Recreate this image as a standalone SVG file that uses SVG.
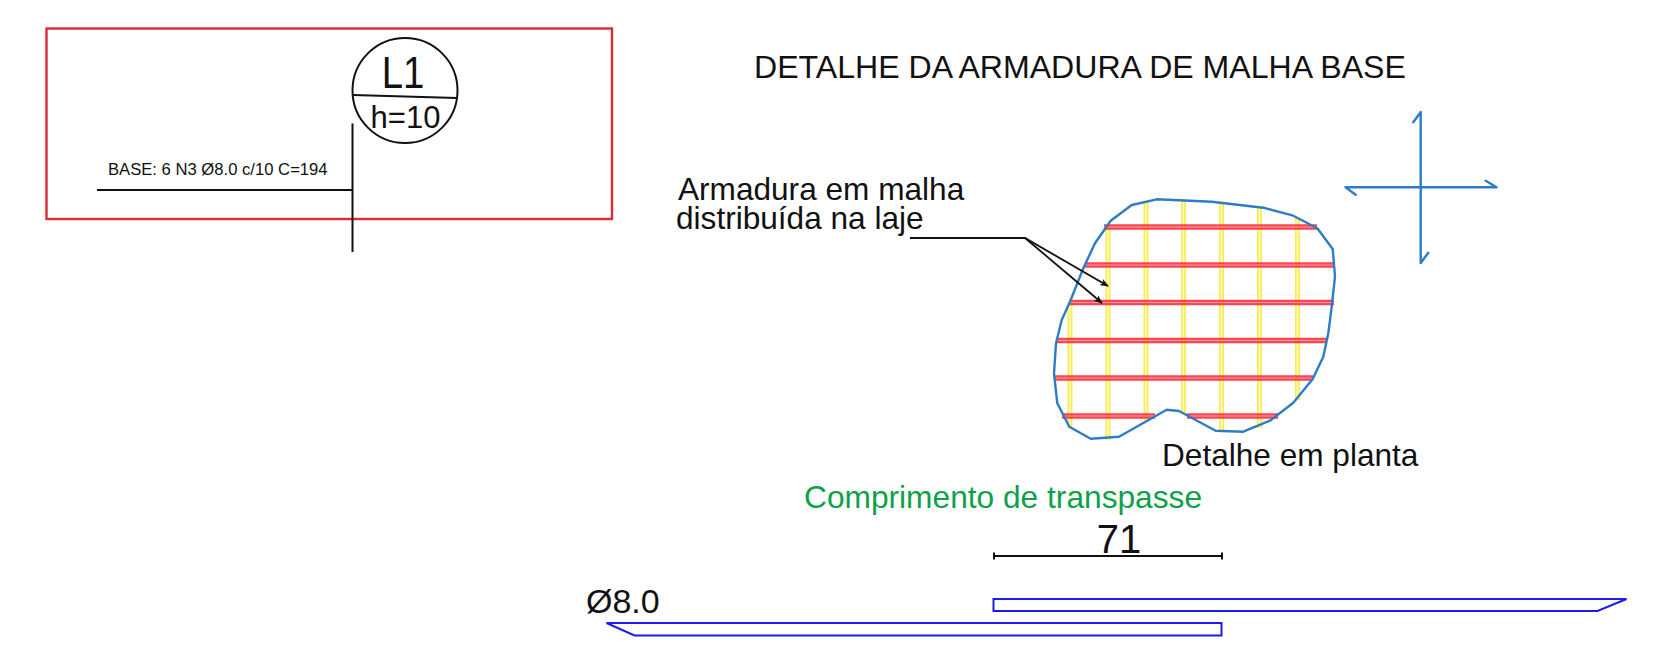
<svg xmlns="http://www.w3.org/2000/svg" width="1654" height="651" viewBox="0 0 1654 651">
<style>
text{font-family:"Liberation Sans",Arial,sans-serif;fill:#111}
.k{fill:none;stroke:#111;stroke-width:2}
.b{fill:none;stroke:#2e7dc4;stroke-width:2.400;stroke-linejoin:round;stroke-linecap:round}
.bar{fill:none;stroke:#1c1cf0;stroke-width:2;stroke-linejoin:miter}
.rb{stroke:#f5333f;stroke-width:5.400;fill:none;opacity:.9}
.rc{stroke:#ff9aa0;stroke-width:1.200;fill:none}
.yb{stroke:#f8ec50;stroke-width:5;fill:none}
.yc{stroke:#fffbc8;stroke-width:1.600;fill:none}
</style>
<defs><marker id="ah" markerWidth="9" markerHeight="7" refX="8" refY="3.500" orient="auto" markerUnits="userSpaceOnUse"><path d="M0 0L9 3.500L0 7L2.500 3.500Z" fill="#111"/></marker></defs>
<g id="slab-frame"><rect x="46.500" y="28.500" width="565.500" height="190.500" fill="none" stroke="#dc2b35" stroke-width="2.400"/></g>
<g id="slab-label">
<circle cx="405" cy="90.500" r="52.500" fill="#fff" stroke="#111" stroke-width="2"/>
<line class="k" x1="353" y1="95" x2="457" y2="98"/>
<text transform="translate(403 87.500) scale(.87 1)" font-size="44" text-anchor="middle">L1</text>
<text x="405.500" y="128" font-size="31" text-anchor="middle">h=10</text>
</g>
<g id="rebar-callout">
<text x="108" y="175" font-size="16.500" transform="translate(108 175) scale(.9 1) translate(-108 -175)" textLength="244" lengthAdjust="spacingAndGlyphs">BASE: 6 N3 Ø8.0 c/10 C=194</text>
</g>
<g id="title"><text x="754" y="78" font-size="32.100">DETALHE DA ARMADURA DE MALHA BASE</text></g>
<g id="mesh-note"><text x="678" y="200" font-size="31.600">Armadura em malha</text><text x="676" y="228.500" font-size="31.600">distribuída na laje</text></g>
<g id="mesh-detail">
<g id="mesh-yellow">
<path class="yb" d="M1070 302V428M1108 225V440M1146 202V421M1183.500 199V413M1221.500 203V431M1259.500 208V428M1297.500 218V400"/>
<path class="yc" d="M1070 302V428M1108 225V440M1146 202V421M1183.500 199V413M1221.500 203V431M1259.500 208V428M1297.500 218V400"/>
</g>
<g id="mesh-red">
<path class="rb" d="M1104 227H1317M1085 265H1335M1070 302.500H1334M1057 340.500H1327M1054 378H1313M1062 416H1155M1187 416H1278"/>
<path class="rc" d="M1104 227H1317M1085 265H1335M1070 302.500H1334M1057 340.500H1327M1054 378H1313M1062 416H1155M1187 416H1278"/>
</g>
<path id="slab-outline" class="b" d="M1156.700 199.300L1211.700 201.700L1263.300 207.700L1293.300 215.700L1317.300 228.300L1332.700 249L1335 276.700L1331.700 306.700L1328.300 333.300L1323.300 356.700L1312.700 379L1293.300 402.700L1270 420.700L1243.300 431.700L1215.700 430.700L1179 411L1166.700 409.700L1119 436.700L1090.700 438.700L1069.300 426.700L1057.300 403.300L1054 373.300L1056 343.300L1061.700 320L1070 301.700L1083.300 268.300L1095 243.300L1110.700 220.700L1131.700 205Z"/>
<g id="detail-label"><text x="1162" y="466" font-size="31.600">Detalhe em planta</text></g>
</g>
<g id="north-cross">
<path class="b" d="M1420.700 263V112L1413.300 122.300M1420.700 263L1428.300 252.700M1345.500 187.300H1496.500L1485.700 180.700M1345.500 187.300L1355.700 194.700"/>
</g>
<g id="connectors">
<path class="k" d="M352.500 123.400V252"/>
<path class="k" d="M97 190H352.500"/>
<path class="k" style="stroke-width:1.800" d="M910 238H1025L1108 286" marker-end="url(#ah)"/>
<path class="k" style="stroke-width:1.800" d="M1025 238L1102 303" marker-end="url(#ah)"/>
</g>
<g id="lap-length">
<text x="804" y="508" font-size="31.700" style="fill:#0fa04b">Comprimento de transpasse</text>
<text x="1119" y="553" font-size="40" text-anchor="middle">71</text>
<path class="k" d="M994 556H1222M994 552.500V559.500M1222 552.500V559.500"/>
</g>
<g id="bars">
<text x="586" y="612.500" font-size="34">Ø8.0</text>
<path id="bar-top" class="bar" d="M993.500 599H1626.500L1597.500 611H993.500Z"/>
<path id="bar-bottom" class="bar" d="M606.500 623H1221.500V635.500H634.500Z"/>
</g>
</svg>
